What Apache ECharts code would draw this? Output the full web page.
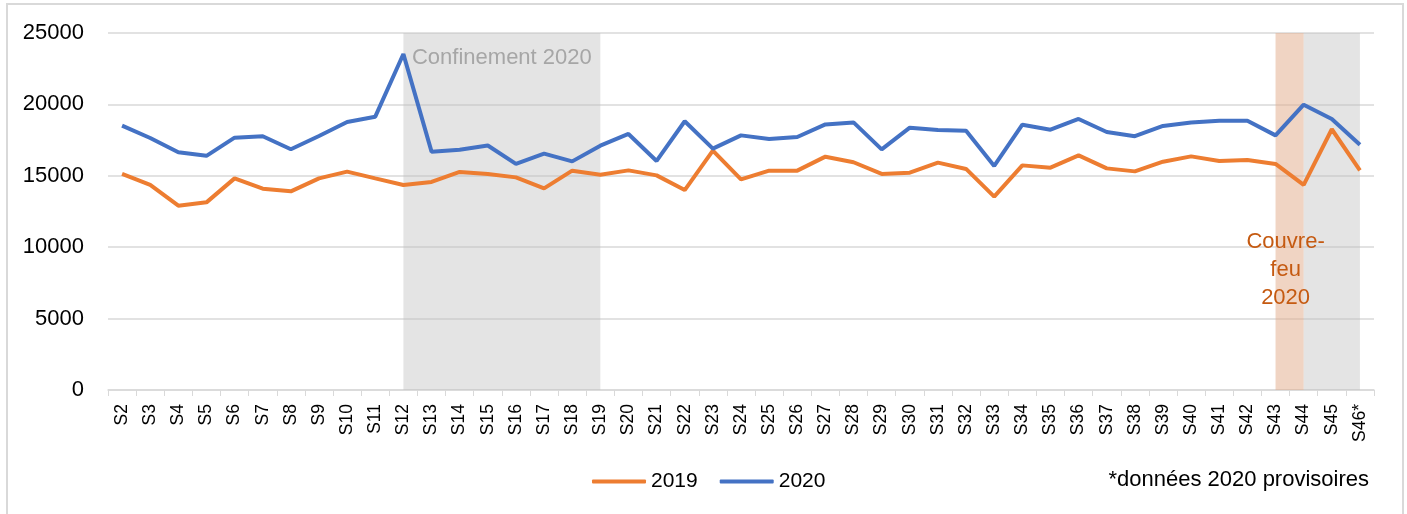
<!DOCTYPE html>
<html>
<head>
<meta charset="utf-8">
<script src="https://cdn.jsdelivr.net/npm/echarts@6/dist/echarts.min.js"></script>
<style>
html,body{margin:0;padding:0;background:#fff;}
#c{width:1407px;height:514px;}
</style>
</head>
<body>
<div id="c"></div>
<script>
var weeks = ['S2','S3','S4','S5','S6','S7','S8','S9','S10','S11','S12','S13','S14','S15','S16','S17','S18','S19','S20','S21','S22','S23','S24','S25','S26','S27','S28','S29','S30','S31','S32','S33','S34','S35','S36','S37','S38','S39','S40','S41','S42','S43','S44','S45','S46*'];
var values2019 = [15130,14360,12910,13140,14820,14100,13910,14820,15290,14820,14360,14570,15270,15130,14890,14120,15360,15080,15380,15030,14000,16760,14750,15360,15360,16340,15950,15130,15220,15920,15480,13540,15730,15570,16430,15520,15310,15990,16360,16040,16110,15830,14360,18260,15380];
var values2020 = [18510,17650,16650,16400,17670,17770,16860,17790,18770,19140,23530,16690,16830,17120,15830,16550,16010,17110,17930,16040,18820,16900,17830,17580,17720,18600,18740,16850,18370,18210,18160,15690,18580,18230,18980,18070,17770,18490,18740,18860,18860,17830,19980,18980,17180];
var yTicks = [0,5000,10000,15000,20000,25000];
var confinement = ['S12','S19'];
var couvreFeu = ['S43','S44'];
var couvreFeuGray = ['S44','S46*'];

var FONT = "'Liberation Sans',Arial,sans-serif";
var chart = echarts.init(document.getElementById('c'));
chart.setOption({
  animation:false,
  backgroundColor:'#fff',
  textStyle:{fontFamily:FONT},
  graphic:[{type:'rect',shape:{x:7,y:4,width:1396,height:530},style:{fill:'none',stroke:'#D9D9D9',lineWidth:2},z:-1},
    {type:'text',right:38,top:469,style:{text:'*données 2020 provisoires',font:'22px '+FONT,fill:'#000'}}],
  grid:{left:108,right:33,top:33,bottom:124},
  legend:{top:466,left:587,data:['2019','2020'],icon:'roundRect',itemWidth:54,itemHeight:4,itemGap:22,
    textStyle:{fontSize:21,color:'#000',fontFamily:FONT}},
  xAxis:{type:'category',data:weeks,boundaryGap:true,
    axisLine:{lineStyle:{color:'#D9D9D9',width:1.5}},
    axisTick:{show:true,length:6,lineStyle:{color:'#D9D9D9'}},
    axisLabel:{rotate:90,fontSize:17.5,color:'#000',margin:14,interval:0,fontFamily:FONT}},
  yAxis:{type:'value',min:yTicks[0],max:yTicks[yTicks.length-1],interval:5000,
    axisLine:{show:false},axisTick:{show:false},
    axisLabel:{fontSize:22,color:'#000',margin:24,fontFamily:FONT,formatter:function(v){return String(v);}},
    splitLine:{lineStyle:{color:'#D9D9D9',width:1.5}}},
  series:[
    {name:'2019',type:'line',data:values2019,symbol:'none',z:3,
      lineStyle:{color:'#ED7D31',width:4},itemStyle:{color:'#ED7D31'},
      markArea:{silent:true,data:[
        [{xAxis:confinement[0],itemStyle:{color:'rgba(190,190,190,0.42)'},
          label:{show:true,position:'insideTop',distance:14,formatter:'Confinement 2020',fontSize:22,color:'#A6A6A6',fontFamily:FONT}},
         {xAxis:confinement[1]}],
        [{xAxis:couvreFeu[0],itemStyle:{color:'rgba(226,170,135,0.5)'},
          label:{show:true,position:'inside',offset:[-4,58],formatter:'Couvre-\nfeu\n2020',fontSize:22,lineHeight:28,color:'#C55A11',align:'center',fontFamily:FONT}},
         {xAxis:couvreFeu[1]}],
        [{xAxis:couvreFeuGray[0],itemStyle:{color:'rgba(190,190,190,0.42)'}},{xAxis:couvreFeuGray[1]}]
      ]}},
    {name:'2020',type:'line',data:values2020,symbol:'none',z:4,
      lineStyle:{color:'#4472C4',width:4},itemStyle:{color:'#4472C4'}}
  ]
});
</script>
</body>
</html>
